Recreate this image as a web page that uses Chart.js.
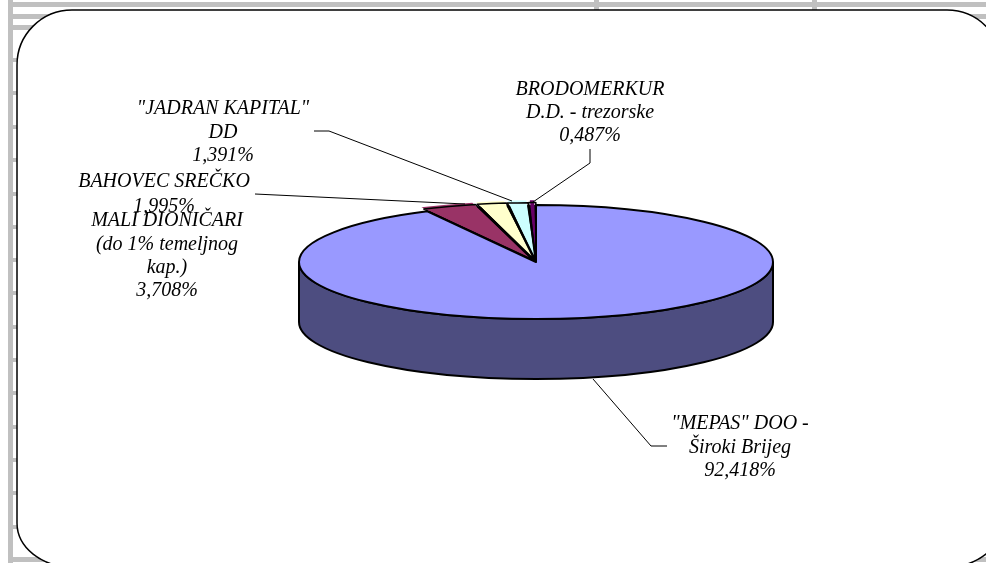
<!DOCTYPE html>
<html>
<head>
<meta charset="utf-8">
<style>
  html, body { margin: 0; padding: 0; background: #fff; overflow: hidden; }
  canvas { display: block; }
</style>
<script src="https://cdn.jsdelivr.net/npm/chart.js@4"></script>
</head>
<body>
<canvas id="myChart" width="986" height="563"></canvas>
<script>
const categories = [
  '"MEPAS" DOO - Široki Brijeg',
  "MALI DIONIČARI (do 1% temeljnog kap.)",
  "BAHOVEC SREČKO",
  '"JADRAN KAPITAL" DD',
  "BRODOMERKUR D.D. - trezorske",
];
const shares = [92.418, 3.708, 1.995, 1.391, 0.487];
const shareLabels = ["92,418%", "3,708%", "1,995%", "1,391%", "0,487%"];
const categoryLines = [
  ['"MEPAS" DOO -', "Široki Brijeg"],
  ["MALI DIONIČARI", "(do 1% temeljnog", "kap.)"],
  ["BAHOVEC SREČKO"],
  ['"JADRAN KAPITAL"', "DD"],
  ["BRODOMERKUR", "D.D. - trezorske"],
];
const sliceColors = ["#9999FF", "#993366", "#FFFFCC", "#CCFFFF", "#660066"];
const wallColor = "#4D4D80";

// squash of the round pie into the tilted ellipse, and height of the wall
const squash = 57 / 237;
const wallDepth = 60;
const smallSliceOffset = 10;

// label anchors: centre x, first line y, line height
const labelPlaces = [
  { x: 740, y: 424, h: 23.5 },
  { x: 167, y: 221, h: 23.4 },
  { x: 164, y: 182, h: 25 },
  { x: 223, y: 109, h: 23.5 },
  { x: 590, y: 90, h: 22.7 },
];
const leaders = [
  [[667, 446], [651, 446], [593, 379]],
  [],
  [[255, 194], [465, 204]],
  [[314, 131], [329, 131], [512, 201]],
  [[590, 149], [590, 163], [533, 202]],
];

const pageBackdrop = {
  id: "pageBackdrop",
  beforeDraw(chart) {
    const c = chart.ctx;
    c.save();
    c.fillStyle = "#fff";
    c.fillRect(0, 0, 986, 563);
    c.fillStyle = "#C0C0C0";
    c.fillRect(8, 0, 5, 563);
    c.fillRect(8, 2, 978, 5);
    c.fillRect(8, 14, 978, 5);
    c.fillRect(8, 25, 978, 5);
    c.fillRect(8, 557, 978, 5);
    [60, 93, 127, 160, 194, 227, 260, 293, 327, 360, 393, 427, 460, 493, 527].forEach((y) => {
      c.fillRect(13, y - 2, 5, 4);
    });
    c.fillRect(596 - 2, 0, 5, 10);
    c.fillRect(814 - 2, 0, 5, 10);
    c.beginPath();
    c.roundRect(17, 10, 985, 557, [55, 55, { x: 55, y: 44 }, { x: 55, y: 44 }]);
    c.fillStyle = "#fff";
    c.fill();
    c.strokeStyle = "#000";
    c.lineWidth = 1.5;
    c.stroke();
    c.restore();
  },
};

const tiltedPie = {
  id: "tiltedPie",
  beforeDatasetsDraw(chart) {
    const c = chart.ctx;
    const arcs = chart.getDatasetMeta(0).data;
    const { x, y, outerRadius: r } = arcs[0];
    const ry = r * squash;

    // side wall of the disc
    c.save();
    c.beginPath();
    c.moveTo(x - r, y);
    c.lineTo(x - r, y + wallDepth);
    c.ellipse(x, y + wallDepth, r, ry, 0, Math.PI, 0, true);
    c.lineTo(x + r, y);
    c.ellipse(x, y, r, ry, 0, 0, Math.PI, false);
    c.closePath();
    c.fillStyle = wallColor;
    c.fill();
    c.strokeStyle = "#000";
    c.lineWidth = 2;
    c.stroke();

    // dark gap left behind by the pulled out slices
    c.beginPath();
    c.moveTo(x, y);
    c.ellipse(x, y, r, ry, 0, arcs[1].startAngle, arcs[4].endAngle);
    c.closePath();
    c.fillStyle = "#000";
    c.fill();
    c.restore();

    c.save();
    c.translate(x, y);
    c.scale(1, squash);
    c.translate(-x, -y);
  },
  afterDatasetsDraw(chart) {
    const c = chart.ctx;
    c.restore();
    c.save();
    c.strokeStyle = "#000";
    c.lineJoin = "round";
    chart.getDatasetMeta(0).data.forEach((arc, i) => {
      const mid = (arc.startAngle + arc.endAngle) / 2;
      const off = i === 0 ? 0 : smallSliceOffset;
      const ax = arc.x + Math.cos(mid) * off;
      const ay = arc.y + Math.sin(mid) * off * squash;
      c.lineWidth = i === 0 ? 2 : 1.5;
      c.beginPath();
      c.moveTo(ax, ay);
      c.ellipse(ax, ay, arc.outerRadius, arc.outerRadius * squash, 0, arc.startAngle, arc.endAngle);
      c.closePath();
      c.stroke();
    });
    c.restore();
  },
  afterDraw(chart) {
    const c = chart.ctx;
    c.save();
    c.strokeStyle = "#000";
    c.lineWidth = 1;
    leaders.forEach((pts) => {
      if (!pts.length) return;
      c.beginPath();
      pts.forEach((p, i) => (i ? c.lineTo(p[0], p[1]) : c.moveTo(p[0], p[1])));
      c.stroke();
    });
    c.fillStyle = "#000";
    c.font = 'italic 20px "Liberation Serif"';
    c.textAlign = "center";
    c.textBaseline = "middle";
    categoryLines.forEach((lines, i) => {
      const place = labelPlaces[i];
      lines.concat(shareLabels[i]).forEach((line, n) => {
        c.fillText(line, place.x, place.y + n * place.h);
      });
    });
    c.restore();
  },
};

new Chart(document.getElementById("myChart"), {
  type: "pie",
  data: {
    labels: categories,
    datasets: [
      {
        data: shares,
        backgroundColor: sliceColors,
        borderWidth: 0,
        // the arc element moves by a quarter of this value
        offset: (ctx) => (ctx.dataIndex === 0 ? 0 : smallSliceOffset * 4),
      },
    ],
  },
  options: {
    responsive: false,
    animation: false,
    events: [],
    radius: 237,
    layout: { padding: { left: 299, right: 213, top: 25, bottom: 64 } },
    plugins: {
      legend: { display: false },
      tooltip: { enabled: false },
    },
  },
  plugins: [pageBackdrop, tiltedPie],
});
</script>
</body>
</html>
